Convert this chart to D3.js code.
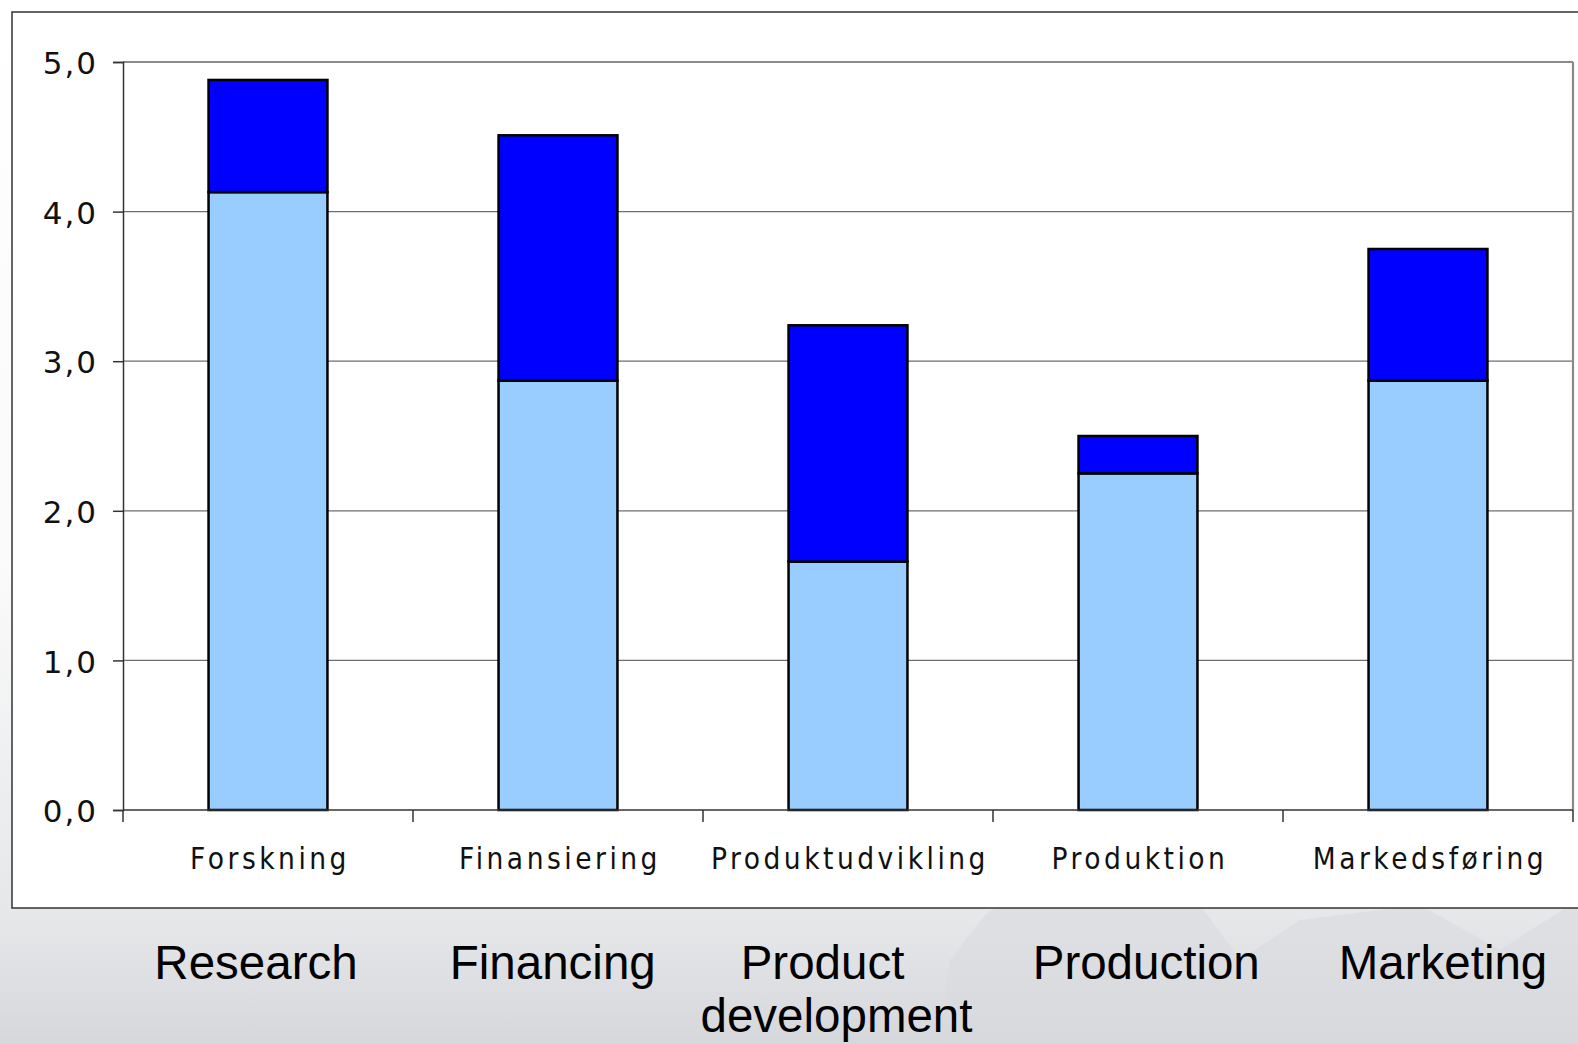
<!DOCTYPE html>
<html>
<head>
<meta charset="utf-8">
<script src="https://cdn.jsdelivr.net/npm/d3@7"></script>
<style>
  body { margin: 0; padding: 0; overflow: hidden; }
</style>
</head>
<body>
<div id="chart"></div>
<script>
// data
var categories = ["Forskning", "Finansiering", "Produktudvikling", "Produktion", "Markedsføring"];
var englishLabels = [["Research"], ["Financing"], ["Product", "development"], ["Production"], ["Marketing"]];
var lowerValues = [4.13, 2.87, 1.66, 2.25, 2.87];
var upperValues = [0.75, 1.64, 1.58, 0.25, 0.88];
var yTicks = [0, 1, 2, 3, 4, 5];

// dimensions
var width = 1578,
    height = 1044;
var plot = {left: 123, right: 1573, top: 62, bottom: 810};

var svg = d3.select("#chart")
            .append("svg")
            .attr("width", width)
            .attr("height", height);

// background gradient
var defs = svg.append("defs");
var grad = defs.append("linearGradient")
               .attr("id", "bg")
               .attr("x1", 0).attr("y1", 0).attr("x2", 0).attr("y2", 1);
grad.append("stop").attr("offset", "0%").attr("stop-color", "#ffffff");
grad.append("stop").attr("offset", "55%").attr("stop-color", "#fafafa");
grad.append("stop").attr("offset", "88%").attr("stop-color", "#e5e7e9");
grad.append("stop").attr("offset", "100%").attr("stop-color", "#d6d7db");

svg.append("rect")
   .attr("width", width)
   .attr("height", height)
   .attr("fill", "url(#bg)");

// faint mountain shapes behind the lower labels
svg.append("path")
   .attr("d", "M940,1044 L950,960 L985,915 L1000,905 L1200,905 L1240,960 L1300,920 L1420,905 L1500,950 L1578,900 L1578,1044 Z")
   .attr("fill", "#d9dadd")
   .attr("opacity", 0.6);

// outer white box
svg.append("rect")
   .attr("x", 12)
   .attr("y", 12)
   .attr("width", width)
   .attr("height", 896)
   .attr("fill", "#ffffff")
   .attr("stroke", "#333333")
   .attr("stroke-width", 1.5);

// scales
var xScale = d3.scaleBand()
               .domain(categories)
               .range([plot.left, plot.right])
               .paddingInner(0.59)
               .paddingOuter(0.295);
var yScale = d3.scaleLinear()
               .domain([0, 5])
               .range([plot.bottom, plot.top]);
// english labels sit on their own spacing
var engScale = d3.scalePoint()
                 .domain(d3.range(englishLabels.length))
                 .range([256, 1443]);
var engShift = [[0], [0], [-27, -13], [0], [0]];

var g = svg.append("g");

// gridlines
g.selectAll("line.grid")
 .data(yTicks.filter(function(d) { return d > 0; }))
 .enter()
 .append("line")
 .attr("class", "grid")
 .attr("x1", plot.left)
 .attr("x2", plot.right)
 .attr("y1", function(d) { return yScale(d); })
 .attr("y2", function(d) { return yScale(d); })
 .attr("stroke", function(d) { return d === 5 ? "#8a8a8a" : "#6f6f6f"; })
 .attr("stroke-width", function(d) { return d === 5 ? 2.2 : 1.2; });

// right border of plot
g.append("line")
 .attr("x1", plot.right).attr("x2", plot.right)
 .attr("y1", plot.top).attr("y2", plot.bottom)
 .attr("stroke", "#8a8a8a")
 .attr("stroke-width", 2.2);

// bars - lower series
g.selectAll("rect.lower")
 .data(categories)
 .enter()
 .append("rect")
 .attr("class", "lower")
 .attr("x", function(d) { return xScale(d); })
 .attr("width", xScale.bandwidth())
 .attr("y", function(d, i) { return yScale(lowerValues[i]); })
 .attr("height", function(d, i) { return yScale(0) - yScale(lowerValues[i]); })
 .attr("fill", "#99ccff")
 .attr("stroke", "#000000")
 .attr("stroke-width", 2.5);

// bars - upper series
g.selectAll("rect.upper")
 .data(categories)
 .enter()
 .append("rect")
 .attr("class", "upper")
 .attr("x", function(d) { return xScale(d); })
 .attr("width", xScale.bandwidth())
 .attr("y", function(d, i) { return yScale(lowerValues[i] + upperValues[i]); })
 .attr("height", function(d, i) { return yScale(lowerValues[i]) - yScale(lowerValues[i] + upperValues[i]); })
 .attr("fill", "#0000ff")
 .attr("stroke", "#000000")
 .attr("stroke-width", 2.5);

// y axis
var yAxis = g.append("g")
             .attr("transform", "translate(" + plot.left + ",0)")
             .call(d3.axisLeft(yScale)
                     .tickValues(yTicks)
                     .tickSize(10)
                     .tickPadding(15)
                     .tickFormat(function(d) { return d3.format(".1f")(d).replace(".", ","); }));
yAxis.select(".domain").attr("stroke", "#333333").attr("stroke-width", 1.5);
yAxis.selectAll(".tick line").attr("stroke", "#333333").attr("stroke-width", 1.5);
yAxis.selectAll(".tick text")
     .attr("font-family", "'DejaVu Sans', Verdana, sans-serif")
     .attr("font-size", 31)
     .attr("letter-spacing", 2)
     .attr("fill", "#111111")
     .attr("dy", "0.38em");

// x axis line and tick marks between categories
g.append("line")
 .attr("x1", plot.left).attr("x2", plot.right)
 .attr("y1", plot.bottom).attr("y2", plot.bottom)
 .attr("stroke", "#333333")
 .attr("stroke-width", 1.5);
var step = xScale.step();
g.selectAll("line.xtick")
 .data(d3.range(categories.length + 1))
 .enter()
 .append("line")
 .attr("class", "xtick")
 .attr("x1", function(i) { return plot.left + i * step; })
 .attr("x2", function(i) { return plot.left + i * step; })
 .attr("y1", plot.bottom)
 .attr("y2", plot.bottom + 12)
 .attr("stroke", "#333333")
 .attr("stroke-width", 1.5);

// category labels (Danish)
g.selectAll("text.cat")
 .data(categories)
 .enter()
 .append("text")
 .attr("class", "cat")
 .attr("x", function(d) { return xScale(d) + xScale.bandwidth() / 2 + 2; })
 .attr("y", 869)
 .attr("text-anchor", "middle")
 .attr("font-family", "'DejaVu Sans Condensed', 'DejaVu Sans', sans-serif")
 .attr("font-size", 29.5)
 .attr("letter-spacing", 3.5)
 .attr("fill", "#111111")
 .text(function(d) { return d; });

// english labels below the box
var eng = svg.selectAll("text.eng")
 .data(englishLabels)
 .enter()
 .append("text")
 .attr("class", "eng")
 .attr("text-anchor", "middle")
 .attr("font-family", "'Liberation Sans', Arial, sans-serif")
 .attr("font-size", 47.5)
 .attr("fill", "#000000");
eng.selectAll("tspan")
   .data(function(d, i) { return d.map(function(t, j) { return {t: t, i: i, j: j}; }); })
   .enter()
   .append("tspan")
   .attr("x", function(d) { return engScale(d.i) + engShift[d.i][d.j]; })
   .attr("y", function(d) { return 979 + d.j * 53; })
   .text(function(d) { return d.t; });
</script>
</body>
</html>
